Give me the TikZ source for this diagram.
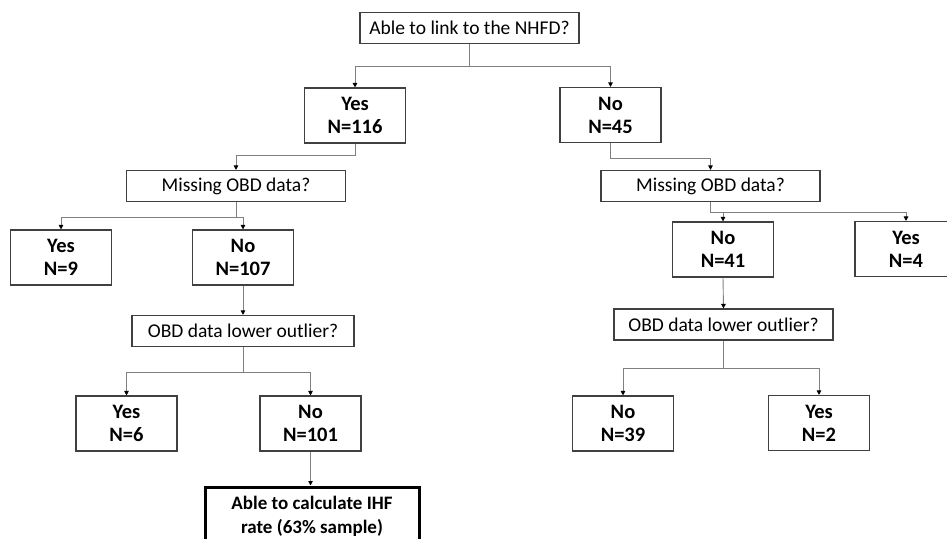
\documentclass[tikz,border=0pt]{standalone}
\usepackage{fontspec}
\setmainfont{Carlito}
\usetikzlibrary{arrows.meta}
\definecolor{boxgrey}{RGB}{64,64,64}
\definecolor{linkgrey}{RGB}{128,128,128}

\begin{document}
\begin{tikzpicture}[x=1pt, y=-1pt, font=\fontsize{19.5}{22}\selectfont,
		question/.style={draw=boxgrey, line width=1.1pt, minimum width=219pt, minimum height=31pt, inner sep=0pt},
		answer/.style={draw=boxgrey, line width=1.1pt, minimum width=101pt, minimum height=55pt, inner sep=0pt, align=center, font=\fontsize{20.5}{23}\selectfont\bfseries},
		result/.style={answer, draw=black, line width=3pt, minimum width=214pt, minimum height=58pt, font=\fontsize{19}{24}\selectfont\bfseries},
		link/.style={draw=linkgrey, line width=0.9pt, -{Triangle[length=4.5pt, width=4.5pt, color=black]}}]
		\path[use as bounding box, clip] (0,0) rectangle (947,538);
		% top question
		\node[question] (nhfd) at (469.5,28) {Able to link to the NHFD?};
		\node[answer] (nhfdyes) at (355,115.5) {Yes\\N=116};
		\node[answer] (nhfdno) at (610.5,115) {No\\N=45};
		% linked branch (left)
		\node[question] (missL) at (236,186) {Missing OBD data?};
		\node[answer] (missLyes) at (61,257.5) {Yes\\N=9};
		\node[answer] (missLno) at (243,257.5) {No\\N=107};
		\node[question, minimum width=222pt] (lowL) at (243,331) {OBD data lower outlier?};
		\node[answer] (lowLyes) at (126.5,423.5) {Yes\\N=6};
		\node[answer] (lowLno) at (310.5,423.5) {No\\N=101};
		\node[result] (ihf) at (312,516) {Able to calculate IHF\\rate (63\% sample)};
		% not linked branch (right)
		\node[question] (missR) at (710.5,186) {Missing OBD data?};
		\node[answer] (missRno) at (723,249.5) {No\\N=41};
		\node[answer, minimum width=102pt] (missRyes) at (906,249) {Yes\\N=4};
		\node[question] (lowR) at (723.5,324.5) {OBD data lower outlier?};
		\node[answer] (lowRno) at (623,423.5) {No\\N=39};
		\node[answer] (lowRyes) at (819,423) {Yes\\N=2};
		% connectors
		\draw[link] (nhfd.south) -- ++(0,22) -| (nhfdyes.north);
		\draw[link] (nhfd.south) -- ++(0,22) -| (nhfdno.north);
		\draw[link] (nhfdyes.south) -- ++(0,12) -| (missL.north);
		\draw[link] (nhfdno.south) -- ++(0,15) -| (missR.north);
		\draw[link] (missL.south) -- ++(0,15) -| (missLyes.north);
		\draw[link] (missL.south) -- ++(0,15) -| (missLno.north);
		\draw[link] (missLno.south) -- (lowL.north);
		\draw[link] (lowL.south) -- ++(0,25) -| (lowLyes.north);
		\draw[link] (lowL.south) -- ++(0,25) -| (lowLno.north);
		\draw[link] (lowLno.south) -- (lowLno.south |- ihf.north);
		\draw[link] (missR.south) -- ++(0,10) -| (missRno.north);
		\draw[link] (missR.south) -- ++(0,10) -| (missRyes.north);
		\draw[link] (missRno.south) -- (lowR.north);
		\draw[link] (lowR.south) -- ++(0,28) -| (lowRno.north);
		\draw[link] (lowR.south) -- ++(0,28) -| (lowRyes.north);
	\end{tikzpicture}
\end{document}
